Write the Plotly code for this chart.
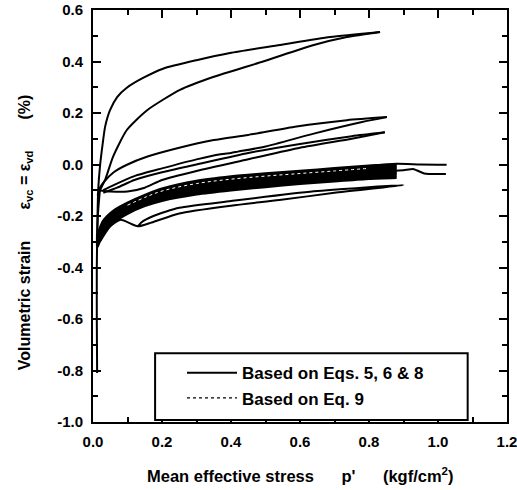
import plotly.graph_objects as go

# ---- data (p' in kgf/cm2, strain in %) ----
# Top loop
a_up_x = [0.012, 0.015, 0.02, 0.028, 0.035, 0.049, 0.07, 0.098, 0.145, 0.203, 0.30, 0.397, 0.542, 0.687, 0.832]
a_up_y = [-0.28, -0.10, -0.01, 0.08, 0.146, 0.21, 0.262, 0.298, 0.336, 0.372, 0.405, 0.433, 0.464, 0.495, 0.515]
a_dn_x = [0.832, 0.736, 0.64, 0.493, 0.348, 0.252, 0.156, 0.098, 0.058, 0.035, 0.02, 0.013]
a_dn_y = [0.515, 0.495, 0.464, 0.40, 0.34, 0.29, 0.21, 0.134, 0.03, -0.06, -0.10, -0.12]
# Middle loops
b_up_x = [0.015, 0.03, 0.06, 0.1, 0.156, 0.25, 0.35, 0.45, 0.59, 0.736, 0.852]
b_up_y = [-0.10, -0.07, -0.03, 0.0, 0.03, 0.065, 0.095, 0.115, 0.148, 0.172, 0.184]
b_dn_x = [0.852, 0.78, 0.64, 0.50, 0.42, 0.40, 0.37, 0.30, 0.20, 0.12, 0.06, 0.03]
b_dn_y = [0.184, 0.165, 0.12, 0.07, 0.05, 0.045, 0.04, 0.02, -0.015, -0.045, -0.08, -0.10]
c_up_x = [0.015, 0.05, 0.10, 0.15, 0.20, 0.30, 0.45, 0.60, 0.75, 0.846]
c_up_y = [-0.10, -0.105, -0.105, -0.09, -0.06, -0.025, 0.02, 0.065, 0.10, 0.125]
c_dn_x = [0.846, 0.75, 0.60, 0.45, 0.30, 0.20, 0.12, 0.07, 0.03]
c_dn_y = [0.125, 0.11, 0.08, 0.045, 0.0, -0.03, -0.06, -0.09, -0.11]
# Dense band of cycles
band_x = [0.012, 0.03, 0.06, 0.10, 0.15, 0.20, 0.30, 0.40, 0.50, 0.60, 0.70, 0.80, 0.88]
band_1 = [-0.28, -0.22, -0.18, -0.15, -0.12, -0.095, -0.065, -0.048, -0.036, -0.026, -0.016, -0.006, 0.0]
band_2 = [-0.285, -0.228, -0.186, -0.155, -0.125, -0.100, -0.071, -0.054, -0.042, -0.032, -0.022, -0.012, -0.007]
band_3 = [-0.29, -0.235, -0.192, -0.160, -0.130, -0.106, -0.077, -0.060, -0.048, -0.038, -0.028, -0.018, -0.013]
band_4 = [-0.295, -0.241, -0.198, -0.165, -0.135, -0.112, -0.083, -0.066, -0.054, -0.044, -0.034, -0.024, -0.019]
band_5 = [-0.30, -0.247, -0.204, -0.170, -0.140, -0.118, -0.089, -0.072, -0.060, -0.050, -0.040, -0.030, -0.025]
band_6 = [-0.305, -0.252, -0.209, -0.175, -0.145, -0.124, -0.095, -0.078, -0.066, -0.056, -0.046, -0.036, -0.031]
band_7 = [-0.31, -0.257, -0.214, -0.180, -0.150, -0.130, -0.101, -0.085, -0.072, -0.062, -0.052, -0.042, -0.037]
band_8 = [-0.315, -0.262, -0.219, -0.185, -0.155, -0.135, -0.108, -0.092, -0.079, -0.068, -0.058, -0.048, -0.044]
band_9 = [-0.32, -0.267, -0.224, -0.190, -0.160, -0.140, -0.115, -0.099, -0.086, -0.074, -0.064, -0.054, -0.050]
# Extensions beyond p' = 0.88
ext1_x = [0.80, 0.88, 0.95, 1.025]
ext1_y = [-0.006, 0.003, 0.0, -0.001]
ext2_x = [0.86, 0.90, 0.93, 0.96, 1.023]
ext2_y = [-0.025, -0.022, -0.018, -0.035, -0.037]
# Lower loop
e_x = [0.02, 0.05, 0.08, 0.13, 0.17, 0.25, 0.40, 0.54, 0.70, 0.90, 0.64, 0.40, 0.25, 0.175, 0.14, 0.13]
e_y = [-0.30, -0.24, -0.215, -0.24, -0.225, -0.19, -0.16, -0.138, -0.11, -0.08, -0.104, -0.142, -0.168, -0.20, -0.225, -0.24]
# Initial deep compression branch
d_x = [0.012, 0.011, 0.011, 0.012, 0.014, 0.02]
d_y = [-0.81, -0.60, -0.40, -0.30, -0.20, -0.10]
# Eq. 9 (dotted) curves
q_x = [0.10, 0.15, 0.20, 0.30, 0.40, 0.50, 0.60, 0.70, 0.80]
q_1 = [-0.158, -0.128, -0.103, -0.074, -0.057, -0.045, -0.035, -0.025, -0.015]

x_ticks = [0.0, 0.2, 0.4, 0.6, 0.8, 1.0, 1.2]
y_ticks = [-1.0, -0.8, -0.6, -0.4, -0.2, 0.0, 0.2, 0.4, 0.6]

FONT = "Liberation Sans"
fig = go.Figure()
solid_sets = [
    (a_up_x, a_up_y), (a_dn_x, a_dn_y), (b_up_x, b_up_y), (b_dn_x, b_dn_y),
    (c_up_x, c_up_y), (c_dn_x, c_dn_y),
    (ext1_x, ext1_y), (ext2_x, ext2_y), (e_x, e_y), (d_x, d_y),
]
band_sets = [band_1, band_2, band_3, band_4, band_5, band_6, band_7, band_8, band_9]
for i, (xs, ys) in enumerate(solid_sets):
    fig.add_trace(go.Scatter(x=xs, y=ys, mode="lines",
                             line=dict(color="black", width=2, shape="spline", smoothing=0.6),
                             name="Based on Eqs. 5, 6 & 8", legendgroup="s", showlegend=(i == 0)))
for ys in band_sets:
    fig.add_trace(go.Scatter(x=band_x, y=ys, mode="lines",
                             line=dict(color="black", width=3, shape="spline", smoothing=0.6),
                             name="Based on Eqs. 5, 6 & 8", legendgroup="s", showlegend=False))
fig.add_trace(go.Scatter(x=q_x, y=q_1, mode="lines",
                         line=dict(color="white", width=1, dash="dot", shape="spline"),
                         name="Based on Eq. 9", legendgroup="d", showlegend=False))
fig.add_trace(go.Scatter(x=[None], y=[None], mode="lines", line=dict(color="black", width=1.2, dash="dot"),
                         name="Based on Eq. 9", legendgroup="d", showlegend=True))

axis_common = dict(showline=True, linewidth=2, linecolor="black", mirror="ticks",
                   ticks="inside", ticklen=8, tickwidth=2, tickcolor="black",
                   showgrid=False, zeroline=False, automargin=False, ticklabelstandoff=5,
                   ticklabeloverflow="allow",
                   tickfont=dict(family=FONT, size=15, color="black", weight="bold"))
fig.update_xaxes(range=[0, 1.2], tickvals=x_ticks, ticktext=[f"{v:.1f}" for v in x_ticks],
                 minor=dict(ticks="inside", dtick=0.1, ticklen=5, tickwidth=2, tickcolor="black"),
                 **axis_common)
fig.update_yaxes(range=[-1.0, 0.6], tickvals=y_ticks, ticktext=[f"{v:.1f}" for v in y_ticks],
                 minor=dict(ticks="inside", dtick=0.1, ticklen=5, tickwidth=2, tickcolor="black"),
                 **axis_common)

# axis titles
fig.add_annotation(text="Mean effective stress      p'      (kgf/cm<sup>2</sup>)", xref="paper", yref="paper",
                   x=0.5, y=-0.128, xanchor="center", yanchor="middle", showarrow=False,
                   font=dict(family=FONT, size=16.5, color="black", weight="bold"))
fig.add_annotation(text="Volumetric strain       ε<sub>vc</sub> = ε<sub>vd</sub>       (%)", xref="paper", yref="paper",
                   x=-0.164, y=0.461, xanchor="center", yanchor="middle", textangle=-90, showarrow=False,
                   font=dict(family=FONT, size=16, color="black", weight="bold"))

# legend frame
fig.add_shape(type="rect", xref="paper", yref="paper", x0=0.150, x1=0.905, y0=0.005, y1=0.167,
              line=dict(color="black", width=2), fillcolor="white", layer="above")

fig.update_layout(
    width=517, height=490,
    margin=dict(l=93, r=10, t=10, b=68, autoexpand=False),
    paper_bgcolor="white", plot_bgcolor="white",
    legend=dict(x=0.215, y=0.162, xanchor="left", yanchor="top", bgcolor="rgba(0,0,0,0)",
                borderwidth=0, tracegroupgap=0, itemwidth=50,
                font=dict(family=FONT, size=17, color="black", weight="bold")),
)
fig.write_html("out.html", config={"displayModeBar": False},
               post_script="document.body.style.margin='0';")
